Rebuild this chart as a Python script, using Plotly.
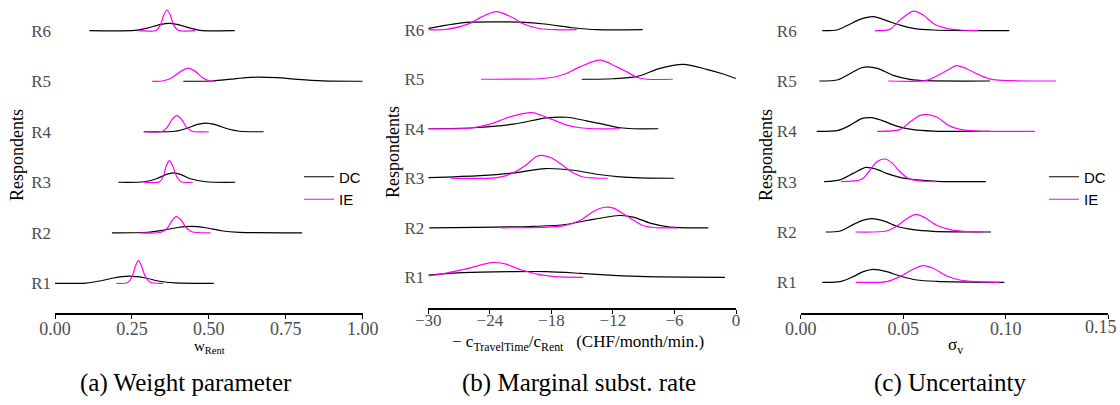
import plotly.graph_objects as go

ROWS = ["R1", "R2", "R3", "R4", "R5", "R6"]
METHODS = ["DC", "IE"]
COLORS = {"DC": "#000000", "IE": "#FF00FF"}

# ---------- Panel (a): weight parameter w_Rent ----------
A_DC_X = [
    [0.0, 0.10, 0.15, 0.19, 0.24, 0.29, 0.34, 0.39, 0.516],
    [0.185, 0.30, 0.35, 0.40, 0.442, 0.49, 0.54, 0.60, 0.803],
    [0.206, 0.29, 0.33, 0.36, 0.385, 0.41, 0.44, 0.49, 0.586],
    [0.288, 0.39, 0.43, 0.46, 0.489, 0.52, 0.56, 0.60, 0.678],
    [0.417, 0.51, 0.57, 0.62, 0.658, 0.72, 0.79, 0.87, 1.0],
    [0.112, 0.26, 0.30, 0.34, 0.372, 0.40, 0.44, 0.47, 0.584],
]
A_DC_H = [
    [0, 0.005, 0.05, 0.105, 0.14, 0.11, 0.04, 0.008, 0],
    [0, 0.01, 0.05, 0.105, 0.126, 0.10, 0.04, 0.008, 0],
    [0, 0.01, 0.07, 0.15, 0.185, 0.15, 0.07, 0.01, 0],
    [0, 0.01, 0.07, 0.14, 0.17, 0.14, 0.06, 0.01, 0],
    [0, 0.005, 0.04, 0.072, 0.08, 0.07, 0.035, 0.008, 0],
    [0, 0.005, 0.05, 0.12, 0.147, 0.12, 0.05, 0.008, 0],
]
A_IE_X = [
    [0.20, 0.235, 0.25, 0.262, 0.271, 0.28, 0.293, 0.31, 0.352],
    [0.275, 0.345, 0.365, 0.38, 0.394, 0.41, 0.425, 0.445, 0.505],
    [0.29, 0.34, 0.352, 0.362, 0.372, 0.382, 0.395, 0.41, 0.448],
    [0.293, 0.35, 0.365, 0.38, 0.396, 0.412, 0.427, 0.445, 0.50],
    [0.315, 0.35, 0.38, 0.41, 0.432, 0.455, 0.48, 0.50, 0.52],
    [0.271, 0.33, 0.343, 0.354, 0.364, 0.374, 0.385, 0.40, 0.456],
]
A_IE_H = [
    [0, 0.01, 0.12, 0.35, 0.45, 0.36, 0.14, 0.02, 0],
    [0, 0.01, 0.09, 0.24, 0.318, 0.25, 0.11, 0.02, 0],
    [0, 0.01, 0.12, 0.33, 0.43, 0.33, 0.12, 0.01, 0],
    [0, 0.01, 0.09, 0.24, 0.318, 0.24, 0.09, 0.01, 0],
    [0, 0.005, 0.07, 0.20, 0.26, 0.20, 0.07, 0.01, 0],
    [0, 0.01, 0.12, 0.32, 0.41, 0.32, 0.12, 0.01, 0],
]

# ---------- Panel (b): marginal substitution rate ----------
B_DC_X = [
    [-30, -26.59, -21.71, -18.46, -15.21, -11.96, -8.71, -1.07],
    [-29.9, -20.08, -16.84, -14.56, -11.31, -10.01, -8.38, -6.43, -2.7],
    [-30, -24.96, -21.71, -18.62, -15.86, -13.58, -11.31, -9.36, -6.02],
    [-30, -25.6, -21.71, -18.46, -16.5, -14.56, -12.6, -11.31, -10.04, -7.57],
    [-15.04, -12.0, -9.68, -7.41, -5.14, -2.86, -1.24, 0.0],
    [-30, -28.2, -26.23, -23.3, -21.06, -18.43, -15.9, -13.56, -9.1],
]
B_DC_H = [
    [0.046, 0.095, 0.115, 0.115, 0.081, 0.04, 0.014, 0],
    [0, 0.026, 0.061, 0.147, 0.248, 0.216, 0.095, 0.014, 0],
    [0.014, 0.055, 0.107, 0.196, 0.162, 0.081, 0.026, 0.006, 0],
    [0, 0.02, 0.093, 0.22, 0.232, 0.16, 0.074, 0.02, 0, 0],
    [0, 0.01, 0.053, 0.22, 0.30, 0.20, 0.105, 0.014],
    [0.026, 0.093, 0.15, 0.16, 0.153, 0.11, 0.04, 0, 0],
]
B_IE_X = [
    [-30, -28.37, -26.1, -23.82, -22.52, -20.9, -19.28, -17.65, -14.89],
    [-22.84, -16.84, -15.21, -13.91, -12.94, -11.96, -10.66, -9.04, -7.73, -5.78],
    [-27.82, -23.33, -21.71, -20.41, -19.43, -18.79, -17.97, -16.99, -15.86, -14.89, -12.51],
    [-30, -25.93, -23.98, -22.03, -19.92, -18.13, -16.5, -15.21, -13.94, -11.31],
    [-24.86, -19.11, -17.8, -16.67, -15.21, -13.26, -11.63, -10.5, -9.68, -8.71, -6.17],
    [-30, -28.21, -25.93, -24.79, -23.33, -21.74, -20.77, -19.11, -17.5, -15.53],
]
B_IE_H = [
    [0.026, 0.081, 0.18, 0.297, 0.27, 0.147, 0.06, 0.014, 0],
    [0, 0.04, 0.147, 0.33, 0.41, 0.398, 0.242, 0.04, 0, 0],
    [0, 0.014, 0.107, 0.277, 0.444, 0.459, 0.41, 0.277, 0.107, 0.026, 0],
    [0, 0.01, 0.093, 0.24, 0.325, 0.205, 0.074, 0.02, 0, 0],
    [0, 0.01, 0.04, 0.105, 0.25, 0.384, 0.25, 0.133, 0.04, 0, 0],
    [0, 0.005, 0.127, 0.26, 0.364, 0.24, 0.12, 0.02, 0, 0],
]

# ---------- Panel (c): uncertainty sigma_v ----------
C_DC_X = [
    [0.0105, 0.0192, 0.0256, 0.0305, 0.0354, 0.0419, 0.0484, 0.0566, 0.0663, 0.0993],
    [0.0122, 0.0192, 0.024, 0.0289, 0.0346, 0.0411, 0.0468, 0.0549, 0.0646, 0.0928],
    [0.0114, 0.0192, 0.0256, 0.0318, 0.0371, 0.0419, 0.0484, 0.0566, 0.0663, 0.0903],
    [0.0078, 0.0183, 0.024, 0.0297, 0.0346, 0.0395, 0.0468, 0.0549, 0.0646, 0.0923],
    [0.0091, 0.0183, 0.024, 0.0297, 0.0338, 0.0378, 0.0451, 0.0533, 0.0614, 0.0923],
    [0.0105, 0.0176, 0.0232, 0.0289, 0.0354, 0.0419, 0.0484, 0.0549, 0.0646, 0.1017],
]
C_DC_H = [
    [0, 0.014, 0.113, 0.212, 0.258, 0.212, 0.125, 0.046, 0.02, 0],
    [0, 0.02, 0.113, 0.212, 0.264, 0.212, 0.113, 0.046, 0.014, 0],
    [0, 0.034, 0.165, 0.284, 0.245, 0.165, 0.085, 0.034, 0.006, 0],
    [0, 0.02, 0.119, 0.252, 0.272, 0.219, 0.105, 0.034, 0.006, 0],
    [0, 0.026, 0.145, 0.264, 0.278, 0.245, 0.113, 0.034, 0.006, 0],
    [0, 0.014, 0.113, 0.225, 0.278, 0.199, 0.113, 0.046, 0.014, 0],
]
C_IE_X = [
    [0.0268, 0.0419, 0.0484, 0.0541, 0.0598, 0.0646, 0.0712, 0.0777, 0.0858, 0.0968],
    [0.0268, 0.0419, 0.0468, 0.0517, 0.0562, 0.0606, 0.0663, 0.0728, 0.0793, 0.0887],
    [0.0197, 0.0297, 0.0338, 0.0371, 0.0411, 0.0444, 0.0484, 0.0525, 0.0582, 0.0663],
    [0.0373, 0.0484, 0.0533, 0.0582, 0.0614, 0.0663, 0.072, 0.0777, 0.0858, 0.1142],
    [0.0427, 0.0614, 0.0679, 0.0728, 0.076, 0.0809, 0.0874, 0.0939, 0.102, 0.1245],
    [0.0362, 0.0435, 0.0484, 0.0549, 0.0598, 0.0646, 0.0712, 0.0777, 0.0866],
]
C_IE_H = [
    [0, 0.014, 0.113, 0.245, 0.332, 0.278, 0.125, 0.046, 0.014, 0],
    [0, 0.02, 0.113, 0.264, 0.351, 0.284, 0.133, 0.046, 0.014, 0],
    [0, 0.046, 0.232, 0.397, 0.45, 0.378, 0.199, 0.066, 0.014, 0],
    [0, 0.034, 0.185, 0.318, 0.332, 0.284, 0.119, 0.04, 0.006, 0],
    [0, 0.014, 0.133, 0.245, 0.304, 0.245, 0.113, 0.026, 0.006, 0],
    [0, 0.026, 0.212, 0.39, 0.312, 0.145, 0.046, 0.014, 0],
]

A_TICKS = [0, 0.25, 0.5, 0.75, 1.0]
A_TICKTEXT = ["0.00", "0.25", "0.50", "0.75", "1.00"]
B_TICKS = [-30, -24, -18, -12, -6, 0]
B_TICKTEXT = ["\u221230", "\u221224", "\u221218", "\u221212", "\u22126", "0"]
C_TICKS = [0, 0.05, 0.10, 0.15]
C_TICKTEXT = ["0.00", "0.05", "0.10", "0.15"]

SERIF = "'Liberation Serif', 'Times New Roman', serif"
SANS = "'Liberation Sans', Arial, sans-serif"
W, H = 1120, 405

panels = [
    dict(key="", data={"DC": (A_DC_X, A_DC_H), "IE": (A_IE_X, A_IE_H)}, legend="legend"),
    dict(key="2", data={"DC": (B_DC_X, B_DC_H), "IE": (B_IE_X, B_IE_H)}, legend=None),
    dict(key="3", data={"DC": (C_DC_X, C_DC_H), "IE": (C_IE_X, C_IE_H)}, legend="legend2"),
]

fig = go.Figure()
for p in panels:
    for m in METHODS:
        xs, hs = p["data"][m]
        for i, (xr, hr) in enumerate(zip(xs, hs)):
            row = i + 1
            show = p["legend"] is not None and i == 0
            kw = dict(legend=p["legend"]) if p["legend"] else {}
            fig.add_trace(go.Scatter(
                x=xr, y=[row + h for h in hr], mode="lines",
                line=dict(color=COLORS[m], width=1.2, shape="spline", smoothing=0.8),
                name=m, showlegend=show, hoverinfo="skip",
                xaxis="x" + p["key"], yaxis="y" + p["key"], **kw))

TICKFONT = dict(family=SERIF, size=18, color="#4d4d4d")

def xax(rng, tv, tt, x0, x1, anchor, size=18, standoff=-6):
    return dict(range=rng, domain=[x0 / W, x1 / W], anchor=anchor, automargin=False,
                tickvals=tv, ticktext=tt, showgrid=False, zeroline=False,
                showline=True, linecolor="black", linewidth=2.3,
                ticks="outside", ticklen=4, tickwidth=1.3, tickcolor="black",
                ticklabelstandoff=standoff, ticklabeloverflow="allow",
                tickfont=dict(family=SERIF, size=size, color="#4d4d4d"), fixedrange=True)

def yax(rng, bottom_px, anchor):
    return dict(range=rng, domain=[(H - bottom_px) / H, 1.0], anchor=anchor, automargin=False,
                tickvals=[1, 2, 3, 4, 5, 6], ticktext=ROWS, showgrid=False,
                zeroline=False, showline=False, ticks="", ticklabelstandoff=3,
                tickfont=dict(family=SERIF, size=17, color="#4d4d4d"), fixedrange=True)

# last label of panel (c) sits at the page edge: drawn as an annotation kept inside the page
c_ticktext_axis = C_TICKTEXT[:-1] + [""]

fig.update_layout(
    width=W, height=H, autosize=False,
    margin=dict(l=0, r=0, t=0, b=0),
    paper_bgcolor="white", plot_bgcolor="white",
    xaxis=xax([0, 1], A_TICKS, A_TICKTEXT, 55, 362.7, "y"),
    xaxis2=xax([-30, 0], B_TICKS, B_TICKTEXT, 428.3, 736, "y2", size=17, standoff=-8),
    xaxis3=xax([0, 0.15], C_TICKS, c_ticktext_axis, 800.7, 1108.3, "y3"),
    yaxis=yax([0.406, 6.608], 313.3, "x"),
    yaxis2=yax([0.386, 6.6], 307.7, "x2"),
    yaxis3=yax([0.384, 6.61], 313.3, "x3"),
    legend=dict(x=299 / W, y=(H - 160.5) / H, xanchor="left", yanchor="top",
                bgcolor="rgba(0,0,0,0)", font=dict(family=SANS, size=15, color="black"),
                tracegroupgap=0, itemwidth=30),
    legend2=dict(x=1044 / W, y=(H - 160.5) / H, xanchor="left", yanchor="top",
                 bgcolor="rgba(0,0,0,0)", font=dict(family=SANS, size=15, color="black"),
                 tracegroupgap=0, itemwidth=30),
    showlegend=True,
)

ann = []
ann.append(dict(text=C_TICKTEXT[-1], x=1119 / W, y=(H - 327) / H, xref="paper", yref="paper",
                showarrow=False, xanchor="right", yanchor="middle", font=TICKFONT))
# y-axis titles
for xc, yc in [(17, 155), (393, 152), (766, 155)]:
    ann.append(dict(text="Respondents", x=xc / W, y=(H - yc) / H, xref="paper", yref="paper",
                    showarrow=False, textangle=-90, xanchor="center", yanchor="middle",
                    font=dict(family=SERIF, size=18, color="black")))
# x-axis titles
ann.append(dict(text="w<sub>Rent</sub>", x=209 / W, y=(H - 347) / H, xref="paper", yref="paper",
                showarrow=False, xanchor="center", yanchor="middle",
                font=dict(family=SERIF, size=15, color="black")))
ann.append(dict(text="\u2212 c<sub>TravelTime</sub>/c<sub>Rent</sub>   (CHF/month/min.)",
                x=578 / W, y=(H - 343) / H, xref="paper", yref="paper",
                showarrow=False, xanchor="center", yanchor="middle",
                font=dict(family=SERIF, size=17, color="black")))
ann.append(dict(text="\u03c3<sub>v</sub>", x=955 / W, y=(H - 346) / H, xref="paper", yref="paper",
                showarrow=False, xanchor="center", yanchor="middle",
                font=dict(family=SERIF, size=17, color="black")))
# captions
for txt, xc in [("(a) Weight parameter", 186), ("(b) Marginal subst. rate", 579), ("(c) Uncertainty", 950)]:
    ann.append(dict(text=txt, x=xc / W, y=(H - 383) / H, xref="paper", yref="paper",
                    showarrow=False, xanchor="center", yanchor="middle",
                    font=dict(family=SERIF, size=25, color="black")))
fig.update_layout(annotations=ann)

fig.write_html("out.html")
